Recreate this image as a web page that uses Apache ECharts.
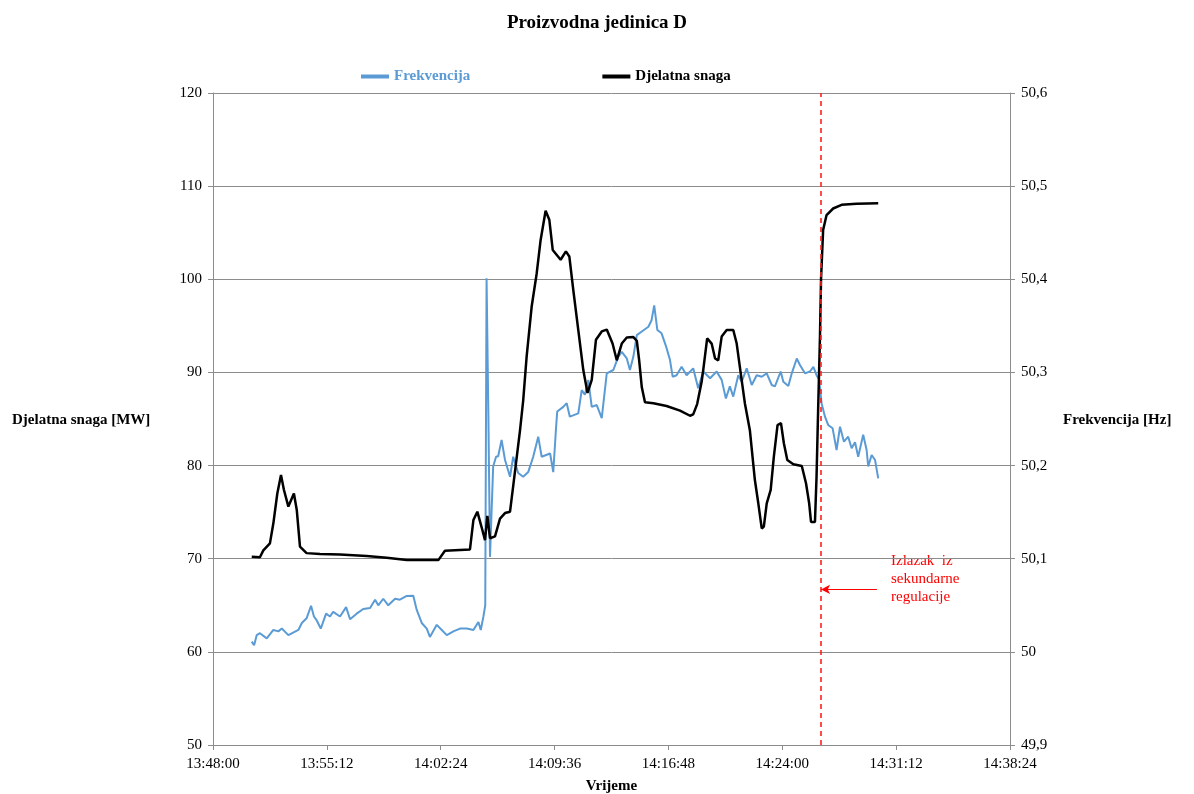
<!DOCTYPE html>
<html>
<head>
<meta charset="utf-8">
<script src="https://cdn.jsdelivr.net/npm/echarts@6/dist/echarts.min.js"></script>
<style>html,body{margin:0;padding:0;background:#fff}#c{width:1194px;height:794px}</style>
</head>
<body>
<div id="c"></div>
<script>
// Time axis: seconds elapsed since 13:48:00
const startClock = 13 * 3600 + 48 * 60;
const axisMaxSec = 3024;      // 14:38:24
const tickStepSec = 432;      // 7 min 12 s
const xTickLabels = ['13:48:00','13:55:12','14:02:24','14:09:36','14:16:48','14:24:00','14:31:12','14:38:24'];

// Djelatna snaga [MW]
const powerT = [147,178,191,216,229,244,258,269,286,307,318,330,355,406,482,583,659,735,855,880,975,988,1003,1019,1032,1041,1051,1070,1089,1108,1127,1139,1165,1177,1190,1209,1228,1243,1262,1276,1289,1319,1339,1352,1367,1386,1405,1421,1437,1453,1475,1494,1516,1532,1551,1570,1595,1608,1617,1627,1639,1671,1721,1772,1810,1822,1837,1854,1860,1875,1892,1905,1917,1930,1949,1974,1987,1999,2018,2037,2056,2069,2082,2090,2101,2116,2128,2142,2155,2166,2179,2202,2234,2250,2262,2269,2284,2290,2296,2303,2307,2315,2328,2353,2385,2442,2524];
const powerV = [70.2,70.15,70.9,71.65,73.8,77.0,79.0,77.4,75.6,77.0,75.2,71.3,70.6,70.5,70.45,70.3,70.1,69.85,69.85,70.85,71.0,74.15,75.05,73.4,72.0,74.6,72.2,72.4,74.3,74.9,75.05,77.8,83.8,87.0,91.7,97.05,100.6,104.2,107.35,106.4,103.15,102.1,103.0,102.45,98.85,94.55,90.25,87.8,89.2,93.5,94.4,94.6,93.1,91.3,93.1,93.75,93.8,93.4,91.3,88.4,86.8,86.7,86.4,85.9,85.35,85.5,86.6,89.0,90.25,93.65,93.1,91.5,91.3,93.85,94.55,94.55,93.1,90.6,86.7,83.8,78.45,75.95,73.25,73.45,75.95,77.4,80.95,84.35,84.55,82.4,80.6,80.15,79.95,78.1,75.95,73.95,73.95,78.8,86.0,93.85,100.0,105.3,106.9,107.6,108.0,108.1,108.15];

// Frekvencija [Hz]
const freqT = [147,156,166,178,204,229,248,261,286,324,337,355,372,383,393,409,429,444,456,482,505,520,545,570,596,615,627,646,665,691,709,735,760,773,792,811,823,849,868,887,912,937,963,988,1007,1016,1026,1033,1038,1045,1051,1063,1074,1082,1095,1108,1127,1139,1158,1177,1196,1215,1234,1247,1279,1291,1301,1306,1329,1342,1354,1386,1399,1411,1424,1437,1456,1475,1494,1519,1538,1551,1570,1582,1595,1608,1627,1652,1664,1674,1686,1702,1719,1734,1744,1759,1778,1797,1822,1841,1860,1886,1911,1930,1946,1961,1974,1993,2006,2025,2044,2063,2082,2101,2120,2132,2154,2164,2183,2196,2215,2227,2246,2265,2278,2290,2300,2309,2322,2334,2351,2366,2379,2394,2410,2423,2436,2448,2467,2480,2486,2499,2512,2524];
const freqV = [50.011,50.007,50.018,50.020,50.0145,50.0235,50.022,50.025,50.018,50.0235,50.031,50.036,50.0495,50.038,50.034,50.025,50.041,50.038,50.043,50.038,50.048,50.035,50.041,50.046,50.047,50.056,50.050,50.057,50.050,50.057,50.056,50.060,50.0603,50.045,50.031,50.025,50.016,50.029,50.0235,50.018,50.022,50.025,50.025,50.0235,50.032,50.0235,50.038,50.05,50.401,50.25,50.102,50.199,50.2095,50.210,50.2275,50.206,50.188,50.2095,50.192,50.188,50.193,50.2095,50.231,50.2095,50.213,50.193,50.238,50.258,50.263,50.267,50.2525,50.256,50.281,50.276,50.292,50.263,50.265,50.251,50.299,50.3026,50.317,50.322,50.315,50.3026,50.317,50.340,50.344,50.349,50.356,50.372,50.3455,50.342,50.328,50.3133,50.2954,50.297,50.306,50.297,50.3044,50.283,50.301,50.2937,50.301,50.292,50.272,50.285,50.274,50.297,50.290,50.3044,50.2865,50.297,50.2954,50.299,50.2865,50.285,50.301,50.290,50.2854,50.299,50.315,50.308,50.299,50.301,50.306,50.297,50.292,50.267,50.2525,50.2436,50.24,50.2167,50.2417,50.2256,50.231,50.2185,50.225,50.2095,50.233,50.2167,50.199,50.2113,50.206,50.1863];

// Annotation: exit from secondary regulation
const exitT = 2307;
const arrowStartT = 2519;
const arrowLevelMW = 66.7;
const annotationText = 'Izlazak  iz\nsekundarne\nregulacije';

const FONT = '"Liberation Serif", "Times New Roman", serif';
const BLUE = '#5B9BD5';
const GRID = '#8c8c8c';

function clock(sec) {
  const s = startClock + Math.round(sec);
  const h = Math.floor(s / 3600), m = Math.floor((s % 3600) / 60), ss = s % 60;
  const p = n => (n < 10 ? '0' : '') + n;
  return h + ':' + p(m) + ':' + p(ss);
}

const chart = echarts.init(document.getElementById('c'));
chart.setOption({
  backgroundColor: '#fff',
  animation: false,
  title: {
    text: 'Proizvodna jedinica D',
    left: 'center', top: 9,
    textStyle: { fontFamily: FONT, fontSize: 19, fontWeight: 'bold', color: '#000' }
  },
  legend: {
    left: 356, top: 64, itemGap: 132, itemWidth: 28, itemHeight: 4,
    icon: 'rect',
    textStyle: { fontFamily: FONT, fontSize: 15, fontWeight: 'bold' },
    data: [
      { name: 'Frekvencija', textStyle: { color: BLUE } },
      { name: 'Djelatna snaga', textStyle: { color: '#000' } }
    ]
  },
  grid: { left: 213, right: 184, top: 93, bottom: 49, containLabel: false, outerBoundsMode: 'none' },
  xAxis: {
    type: 'value', min: 0, max: axisMaxSec, interval: tickStepSec,
    name: 'Vrijeme', nameLocation: 'middle', nameGap: 34,
    nameTextStyle: { fontFamily: FONT, fontSize: 15, fontWeight: 'bold', color: '#000' },
    axisLine: { lineStyle: { color: GRID } },
    axisTick: { show: true, length: 5, lineStyle: { color: GRID } },
    axisLabel: { fontFamily: FONT, fontSize: 15, color: '#000', margin: 12,
      formatter: v => xTickLabels[Math.round(v / tickStepSec)] || clock(v) },
    splitLine: { show: false }
  },
  yAxis: [
    {
      type: 'value', min: 50, max: 120, interval: 10, position: 'left',
      axisLine: { show: true, lineStyle: { color: GRID } },
      axisTick: { show: true, length: 5, lineStyle: { color: GRID } },
      axisLabel: { fontFamily: FONT, fontSize: 15, color: '#000', margin: 11 },
      splitLine: { show: true, lineStyle: { color: GRID, width: 1 } }
    },
    {
      type: 'value', min: 49.9, max: 50.6, interval: 0.1, position: 'right',
      axisLine: { show: true, lineStyle: { color: GRID } },
      axisTick: { show: true, length: 5, lineStyle: { color: GRID } },
      axisLabel: { fontFamily: FONT, fontSize: 15, color: '#000', margin: 11,
        formatter: v => (Math.round(v * 10) / 10).toString().replace('.', ',') },
      splitLine: { show: false }
    }
  ],
  series: [
    {
      name: 'Frekvencija', type: 'line', yAxisIndex: 1,
      data: freqT.map((t, i) => [t, freqV[i]]),
      showSymbol: false, symbol: 'none', smooth: false,
      lineStyle: { color: BLUE, width: 2 }, itemStyle: { color: BLUE }
    },
    {
      name: 'Djelatna snaga', type: 'line', yAxisIndex: 0,
      data: powerT.map((t, i) => [t, powerV[i]]),
      showSymbol: false, symbol: 'none', smooth: false,
      lineStyle: { color: '#000', width: 2.5 }, itemStyle: { color: '#000' },
      markLine: {
        silent: true, animation: false,
        label: { show: false },
        data: [
          { xAxis: exitT, symbol: 'none', lineStyle: { color: '#ff2020', type: [5, 4], width: 1.6 } },
          [
            { coord: [arrowStartT, arrowLevelMW], symbol: 'none', lineStyle: { color: '#ff0000', type: 'solid', width: 1.2 } },
            { coord: [exitT, arrowLevelMW], symbol: 'arrow', symbolSize: [7, 9] }
          ]
        ],
        symbol: ['none', 'none']
      }
    }
  ],
  graphic: [
    { type: 'text', left: 12, top: 413,
      style: { text: 'Djelatna snaga [MW]', fontFamily: FONT, fontSize: 15, fontWeight: 'bold', fill: '#000' } },
    { type: 'text', left: 1063, top: 413,
      style: { text: 'Frekvencija [Hz]', fontFamily: FONT, fontSize: 15, fontWeight: 'bold', fill: '#000' } },
    { type: 'text', left: 891, top: 552,
      style: { text: annotationText, fontFamily: FONT, fontSize: 15, lineHeight: 18, fill: '#ff0000' } }
  ]
});
</script>
</body>
</html>
